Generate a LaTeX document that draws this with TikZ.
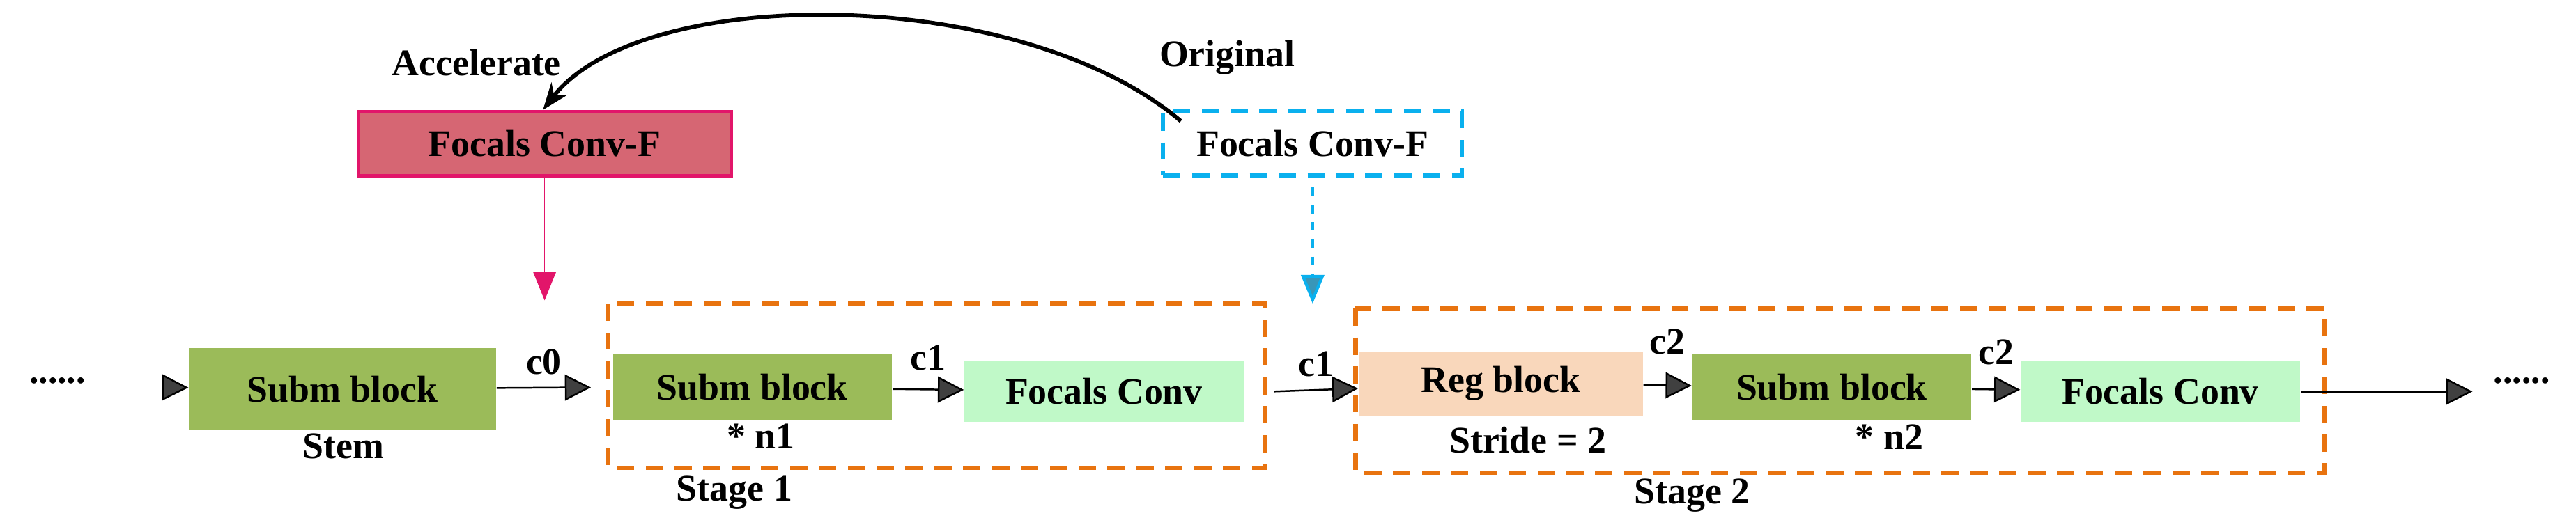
\documentclass[tikz,border=0pt]{standalone}
\usepackage{fontspec}
\setmainfont{Liberation Serif}
\usepackage{tikz}
\usetikzlibrary{arrows.meta}

\definecolor{submgreen}{HTML}{9BBB59}
\definecolor{focalgreen}{HTML}{C0F9C8}
\definecolor{regpeach}{HTML}{F9D7BB}
\definecolor{stageorange}{HTML}{E8730F}
\definecolor{fastpink}{HTML}{D66673}
\definecolor{fastedge}{HTML}{E2156A}
\definecolor{origblue}{HTML}{0AB0EE}
\definecolor{tipgray}{HTML}{404040}

\tikzset{
  block/.style={inner sep=0pt, font=\fontsize{13}{15}\selectfont\bfseries},
  lbl/.style={font=\fontsize{13}{15}\selectfont\bfseries},
  flow/.style={-{Triangle[length=9pt,width=9pt,fill=tipgray]}, line width=0.6pt},
  stage/.style={stageorange, dashed, line width=1.6pt, dash pattern=on 6pt off 4pt}
}

\begin{document}
\begin{tikzpicture}[x=0.02cm,y=-0.02cm,>=Stealth]
			\useasboundingbox (0,0) rectangle (1568,321);
			
			% stage frames
			\draw[stage] (370,185) rectangle (770,285);
			\draw[stage] (825,188) rectangle (1415,288);
			\node[lbl] (s1) at (447,300) {Stage 1};
			\node[lbl] (s2) at (1030,302) {Stage 2};
			
			% main chain
			\node[block, fill=submgreen, minimum width=3.74cm, minimum height=1.0cm] (stem) at (208.5,237) {Subm block};
			\node[block, fill=submgreen, minimum width=3.4cm, minimum height=0.8cm] (subm1) at (458,236) {Subm block};
			\node[block, fill=focalgreen, minimum width=3.4cm, minimum height=0.74cm] (fc1) at (672,238.5) {Focals Conv};
			\node[block, fill=regpeach, minimum width=3.46cm, minimum height=0.78cm] (reg) at (913.5,233.5) {Reg block};
			\node[block, fill=submgreen, minimum width=3.4cm, minimum height=0.8cm] (subm2) at (1115,236) {Subm block};
			\node[block, fill=focalgreen, minimum width=3.4cm, minimum height=0.74cm] (fc2) at (1315,238.5) {Focals Conv};
			
			\node[lbl] (dotsl) at (35,232) {\textbf{......}};
			\node[lbl] (dotsr) at (1535,232) {\textbf{......}};
			\coordinate (inl) at (100,236);
			\coordinate (outr) at (1505,238.5);
			
			\node[lbl] (stemlbl) at (209,272) {Stem};
			\node[lbl] (n1) at (463,266) {* n1};
			\node[lbl] (stride) at (930,268) {Stride = 2};
			\node[lbl] (n2) at (1150,266) {* n2};
			
			\draw[flow] (inl) -- (stem);
			\draw[flow] (stem) -- node[lbl, above=1pt] {c0} ([xshift=-0.26cm]subm1.west);
			\draw[flow] (subm1) -- node[lbl, above=3pt] {c1} (fc1);
			\draw[flow] ([xshift=0.36cm]fc1.east) -- node[lbl, above=1pt] {c1} (reg);
			\draw[flow] (reg) -- node[lbl, above=7pt] {c2} (subm2);
			\draw[flow] (subm2) -- node[lbl, above=5pt] {c2} (fc2);
			\draw[flow] (fc2) -- (outr);
			
			% replacement boxes
			\node[block, fill=fastpink, draw=fastedge, line width=1.2pt, minimum width=4.54cm, minimum height=0.78cm] (fast) at (331.5,87.5) {Focals Conv-F};
			\node[block, draw=origblue, dashed, line width=1.4pt, dash pattern=on 6pt off 4pt, minimum width=3.64cm, minimum height=0.78cm] (orig) at (799,87.5) {Focals Conv-F};
			\node[lbl] (acc) at (290,38) {Accelerate};
			\node[lbl] (ori) at (747,35) {Original};
			
			\draw[-{Triangle[length=10pt,width=8pt,fill=fastedge]}, fastedge, line width=0.4pt] (fast) -- (fast |- 0,183);
			\draw[-{Triangle[length=10pt,width=8pt,fill=origblue!70!black!80]}, origblue, line width=1pt, dashed] (orig.south) ++(0,6) -- (799,185);
			\draw[->, line width=1.4pt] ([xshift=0.24cm,yshift=-0.14cm]orig.north west) .. controls (620,-10) and (390,-10) .. ([xshift=-0.02cm]fast.north);
		\end{tikzpicture}
\end{document}
